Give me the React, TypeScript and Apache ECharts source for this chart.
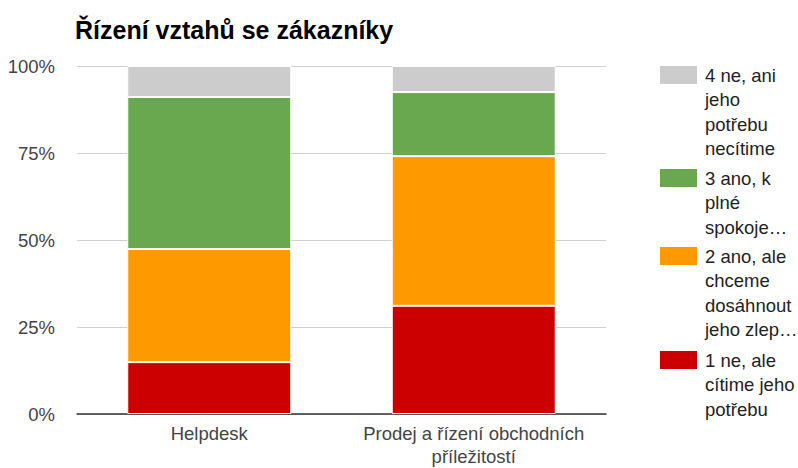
import React, { useEffect, useRef } from "react";
import * as echarts from "echarts";

const titleText = "Řízení vztahů se zákazníky";
const categories = ["Helpdesk", "Prodej a řízení obchodních\npříležitostí"];
const seriesNames = [
  "1 ne, ale cítime jeho potřebu",
  "2 ano, ale chceme dosáhnout jeho zlep…",
  "3 ano, k plné spokoje…",
  "4 ne, ani jeho potřebu necítime",
];
const legendLines: string[][] = [
  ["1 ne, ale", "cítime jeho", "potřebu"],
  ["2 ano, ale", "chceme", "dosáhnout", "jeho zlep…"],
  ["3 ano, k", "plné", "spokoje…"],
  ["4 ne, ani", "jeho", "potřebu", "necítime"],
];
const seriesColors = ["#cc0000", "#ff9900", "#6aa84f", "#cccccc"];
const values1 = [14.9, 31.1];
const values2 = [32.5, 43.0];
const values3 = [43.7, 18.4];
const values4 = [8.9, 7.5];
const seriesValues = [values1, values2, values3, values4];
const yTicks = { min: 0, max: 100, interval: 25 };

const FONT = "'Liberation Sans', Arial, sans-serif";
const LH = 24.5;
// legend display order (top to bottom) and first-line centre of each entry
const legendOrder = [3, 2, 1, 0];
const legendFirstLineY = [75, 178, 256, 360];

function iconPath(lines: number) {
  const h = lines * LH;
  const a = LH / 2 - 9;
  const b = LH / 2 + 9;
  return `path://M0,0L37,0M0,${a}L37,${a}L37,${b}L0,${b}ZM0,${h}L37,${h}`;
}

export default function App() {
  const ref = useRef<HTMLDivElement>(null);
  useEffect(() => {
    if (!ref.current) return;
    const chart = echarts.init(ref.current, undefined, { renderer: "svg" });
    const legends = legendOrder.map((si, k) => {
      const n = legendLines[si].length;
      return {
        orient: "vertical",
        left: 660,
        top: legendFirstLineY[k] - LH / 2,
        padding: 0,
        itemWidth: 37,
        itemHeight: n * LH,
        itemGap: 0,
        icon: iconPath(n),
        selectedMode: false,
        itemStyle: { borderWidth: 0 },
        textStyle: {
          fontFamily: FONT,
          fontSize: 18.5,
          color: "#222",
          lineHeight: LH,
          padding: [0, 0, 0, 3],
        },
        data: [{ name: seriesNames[si], itemStyle: { color: seriesColors[si], borderWidth: 0 } }],
        formatter: (name: string) => legendLines[seriesNames.indexOf(name)].join("\n"),
      };
    });
    chart.setOption({
      animation: false,
      backgroundColor: "#ffffff",
      title: {
        text: titleText,
        left: 70,
        top: 12,
        textStyle: { fontFamily: FONT, fontSize: 25, fontWeight: "bold", color: "#000" },
      },
      legend: legends,
      grid: { left: 77, right: 192, top: 66, bottom: 53 },
      xAxis: {
        type: "category",
        data: categories,
        axisLine: { lineStyle: { color: "#333", width: 1.5 } },
        axisTick: { show: false },
        axisLabel: {
          fontFamily: FONT,
          fontSize: 18.5,
          color: "#444",
          margin: 8,
          lineHeight: 23,
          interval: 0,
        },
      },
      yAxis: {
        type: "value",
        min: yTicks.min,
        max: yTicks.max,
        interval: yTicks.interval,
        axisLine: { show: false },
        axisTick: { show: false },
        splitLine: { lineStyle: { color: "#d0d0d0", width: 1 } },
        axisLabel: {
          fontFamily: FONT,
          fontSize: 18.5,
          color: "#444",
          margin: 22,
          formatter: "{value}%",
        },
      },
      series: seriesNames.map((name, i) => ({
        name,
        type: "bar",
        stack: "total",
        data: seriesValues[i],
        barCategoryGap: "38%",
        itemStyle: { color: seriesColors[i], borderColor: "#ffffff", borderWidth: 1 },
      })),
    });
    return () => chart.dispose();
  }, []);
  return (
    <div
      ref={ref}
      style={{ position: "fixed", left: 0, top: 0, width: 798, height: 468 }}
    />
  );
}
